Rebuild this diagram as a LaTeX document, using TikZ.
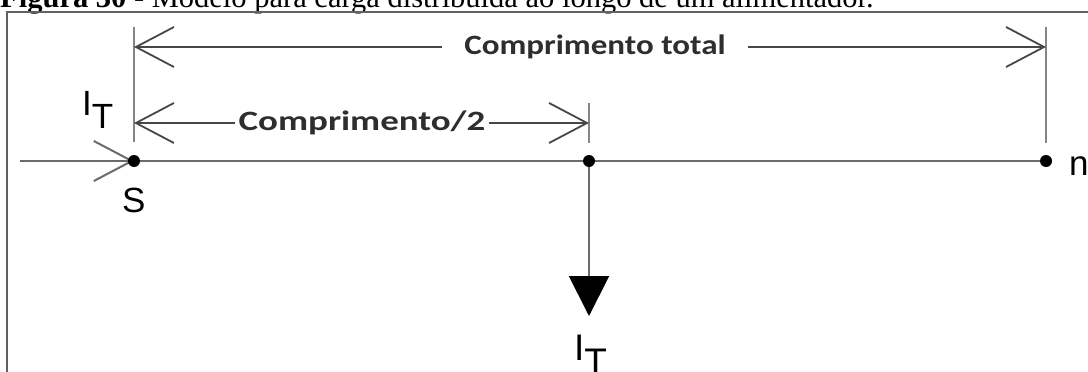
\documentclass[tikz,border=0pt]{standalone}
\usepackage{fontspec}
\setmainfont{Liberation Serif}
\newfontfamily\calfont{Carlito}
\newfontfamily\arifont{Liberation Sans}
\usetikzlibrary{arrows.meta}
\pgfdeclarelayer{bg}
\pgfsetlayers{bg,main}
\begin{document}
\begin{tikzpicture}[x=1pt,y=-1pt,
  dot/.style={circle,fill=black,inner sep=0pt,minimum size=12pt},
  frameline/.style={draw=black!62,line width=1.5pt},
  mainline/.style={draw=black!58,line width=2pt},
  dimline/.style={draw=black!72,line width=1.8pt},
  extline/.style={draw=black!48,line width=1.5pt},
  barb/.style={-{Straight Barb[length=38pt,width=40pt]}},
  load/.style={-{Triangle[length=40pt,width=40pt,color=black]}},
  dimlabel/.style={font=\calfont\bfseries\fontsize{28}{28}\selectfont,text=black!82,inner ysep=0pt},
  lbl/.style={font=\arifont\fontsize{35}{35}\selectfont,inner sep=0pt,anchor=base west}
]
\useasboundingbox (0,0) rectangle (1088,372);
% caption (cut by the top edge)
\node[anchor=base west,inner sep=0pt,font=\fontsize{30.5}{30.5}\selectfont] (cap) at (0,8)
  {\textbf{Figura 30} - Modelo para carga distribuída ao longo de um alimentador.};
% frame
\coordinate (fbl) at (7,380);
\coordinate (ftl) at (7,12);
\coordinate (ftr) at (1095,12);
\draw[frameline] (fbl) -- (ftl) -- (ftr);
% main nodes
\node[dot] (S) at (134,161) {};
\node[dot] (M) at (589,161) {};
\node[dot] (N) at (1046,161) {};
\coordinate (in) at (20,161);
\coordinate (ld) at (589,316);
% extension line ends
\coordinate (St) at (134,27);  \coordinate (Sb) at (134,142);
\coordinate (Mt) at (589,103); \coordinate (Mb) at (589,143);
\coordinate (Nt) at (1046,27); \coordinate (Nb) at (1046,143);
% dimension ends
\coordinate (d1l) at (134,47);  \coordinate (d1r) at (1046,47);
\coordinate (d2l) at (134,123); \coordinate (d2r) at (589,123);
\begin{pgfonlayer}{bg}
\draw[mainline,barb] (in) -- (S.center);
\draw[mainline] (S.center) -- (M.center) -- (N.center);
\draw[mainline,load] (M.center) -- (ld);
\draw[extline] (St) -- (Sb);
\draw[extline] (Mt) -- (Mb);
\draw[extline] (Nt) -- (Nb);
\end{pgfonlayer}
% dimension labels
\node[dimlabel,inner xsep=22pt] (tot) at (595,47) {\scalebox{1.18}[1]{Comprimento total}};
\node[dimlabel,inner xsep=3pt] (half) at (362,123) {\scalebox{1.32}[1]{Comprimento/2}};
\draw[dimline,barb] (tot.west) -- (d1l);
\draw[dimline,barb] (tot.east) -- (d1r);
\draw[dimline,barb] (half.west) -- (d2l);
\draw[dimline,barb] (half.east) -- (d2r);
% labels
\node[lbl] (IT1) at (82,115) {I\raisebox{-13pt}{T}};
\node[lbl] (sS) at (122,212) {S};
\node[lbl] (sn) at (1069,175) {n};
\node[lbl,font=\arifont\fontsize{37}{37}\selectfont] (IT2) at (574,360) {I\raisebox{-14pt}{T}};
\end{tikzpicture}
\end{document}
